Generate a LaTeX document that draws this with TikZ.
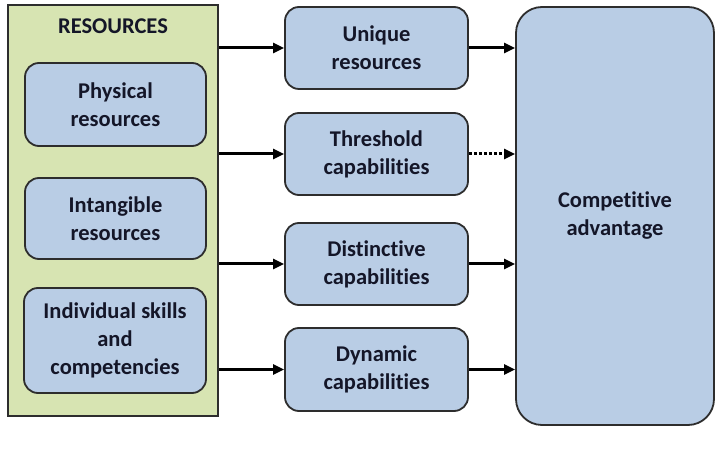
\documentclass[tikz,border=0pt]{standalone}
\usepackage{fontspec}
\setmainfont{Carlito}[Ligatures={NoCommon}]
\usepackage{tikz}
\usepackage{xcolor}
\usetikzlibrary{
    arrows.meta,
    calc,
    positioning
}
\definecolor{resgreen}{RGB}{215,228,178}
\definecolor{boxblue}{RGB}{185,205,229}
\definecolor{edgegray}{RGB}{45,45,45}
\definecolor{txtdark}{RGB}{20,22,40}

\begin{document}
\begin{tikzpicture}[x=1pt, y=-1pt,
    font=\fontsize{22.5}{28}\selectfont\bfseries,
    txt/.style={text=txtdark, align=center},
    blk/.style={draw=edgegray, line width=1.8pt, fill=boxblue, rounded corners=14pt, txt},
    link/.style={line width=3pt, -{Triangle[length=11pt,width=10pt]}}]
                        \useasboundingbox (0, 0) rectangle (716, 470);
                        \node[draw=edgegray, line width=1.6pt, fill=resgreen, minimum width=210pt, minimum height=411pt] (res) at (113, 210.5) {};
                        \node[txt] (restitle) at (113, 26) {RESOURCES};
                        \node[blk, minimum width=181pt, minimum height=83pt] (phys) at (115.5, 104.5) {Physical\\resources};
                        \node[blk, minimum width=181pt, minimum height=81pt] (intang) at (115.5, 218.5) {Intangible\\resources};
                        \node[blk, minimum width=182pt, minimum height=105pt] (skills) at (115, 340.5) {Individual skills\\and\\competencies};

                        \node[blk, minimum width=183pt, minimum height=82pt] (uniq) at (376.5, 48) {Unique\\resources};
                        \node[blk, minimum width=183pt, minimum height=82pt] (thresh) at (376.5, 154) {Threshold\\capabilities};
                        \node[blk, minimum width=183pt, minimum height=82pt] (dist) at (376.5, 264) {Distinctive\\capabilities};
                        \node[blk, minimum width=183pt, minimum height=83pt] (dyn) at (376.5, 369.5) {Dynamic\\capabilities};

                        \node[blk, rounded corners=26pt, minimum width=198pt, minimum height=418pt] (comp) at (615, 216) {Competitive\\advantage};

                        \draw
                        (uniq.west -| res.east) edge[link] (uniq.west)
                        (thresh.west -| res.east) edge[link] (thresh.west)
                        (dist.west -| res.east) edge[link] (dist.west)
                        (dyn.west -| res.east) edge[link] (dyn.west)
                        (uniq.east) edge[link] (uniq.east -| comp.west)
                        (thresh.east) edge[link, dotted] (thresh.east -| comp.west)
                        (dist.east) edge[link] (dist.east -| comp.west)
                        (dyn.east) edge[link] (dyn.east -| comp.west);
                    \end{tikzpicture}
\end{document}
